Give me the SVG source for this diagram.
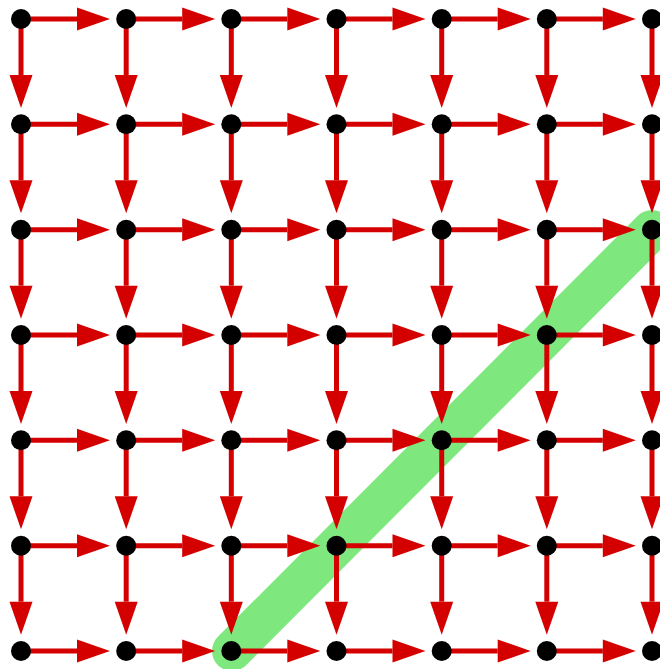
<svg xmlns="http://www.w3.org/2000/svg" width="660" height="669" viewBox="0 0 660 669">
<style>
.e{stroke:#d40000;stroke-width:5;fill:none;marker-end:url(#ah)}
.n{fill:#000}
.hl{stroke:#7ee87e;stroke-width:40;stroke-linecap:round;fill:none}
</style>
<defs>
<marker id="ah" markerUnits="userSpaceOnUse" markerWidth="34" markerHeight="24" refX="0" refY="11.5" orient="auto" overflow="visible">
<path d="M0,0 L33,11.5 L0,23 Z" fill="#d40000"/>
</marker>
</defs>
<rect width="660" height="669" fill="#fff"/>
<g id="highlight"><line class="hl" x1="232" y1="651" x2="652" y2="230"/></g>
<g id="connectors">
<line class="e" x1="21" y1="19" x2="77" y2="19"/><line class="e" x1="126.2" y1="19" x2="182.2" y2="19"/><line class="e" x1="231.3" y1="19" x2="287.3" y2="19"/><line class="e" x1="336.5" y1="19" x2="392.5" y2="19"/><line class="e" x1="441.7" y1="19" x2="497.7" y2="19"/><line class="e" x1="546.8" y1="19" x2="602.8" y2="19"/>
<line class="e" x1="21" y1="124.3" x2="77" y2="124.3"/><line class="e" x1="126.2" y1="124.3" x2="182.2" y2="124.3"/><line class="e" x1="231.3" y1="124.3" x2="287.3" y2="124.3"/><line class="e" x1="336.5" y1="124.3" x2="392.5" y2="124.3"/><line class="e" x1="441.7" y1="124.3" x2="497.7" y2="124.3"/><line class="e" x1="546.8" y1="124.3" x2="602.8" y2="124.3"/>
<line class="e" x1="21" y1="229.7" x2="77" y2="229.7"/><line class="e" x1="126.2" y1="229.7" x2="182.2" y2="229.7"/><line class="e" x1="231.3" y1="229.7" x2="287.3" y2="229.7"/><line class="e" x1="336.5" y1="229.7" x2="392.5" y2="229.7"/><line class="e" x1="441.7" y1="229.7" x2="497.7" y2="229.7"/><line class="e" x1="546.8" y1="229.7" x2="602.8" y2="229.7"/>
<line class="e" x1="21" y1="335" x2="77" y2="335"/><line class="e" x1="126.2" y1="335" x2="182.2" y2="335"/><line class="e" x1="231.3" y1="335" x2="287.3" y2="335"/><line class="e" x1="336.5" y1="335" x2="392.5" y2="335"/><line class="e" x1="441.7" y1="335" x2="497.7" y2="335"/><line class="e" x1="546.8" y1="335" x2="602.8" y2="335"/>
<line class="e" x1="21" y1="440.3" x2="77" y2="440.3"/><line class="e" x1="126.2" y1="440.3" x2="182.2" y2="440.3"/><line class="e" x1="231.3" y1="440.3" x2="287.3" y2="440.3"/><line class="e" x1="336.5" y1="440.3" x2="392.5" y2="440.3"/><line class="e" x1="441.7" y1="440.3" x2="497.7" y2="440.3"/><line class="e" x1="546.8" y1="440.3" x2="602.8" y2="440.3"/>
<line class="e" x1="21" y1="545.7" x2="77" y2="545.7"/><line class="e" x1="126.2" y1="545.7" x2="182.2" y2="545.7"/><line class="e" x1="231.3" y1="545.7" x2="287.3" y2="545.7"/><line class="e" x1="336.5" y1="545.7" x2="392.5" y2="545.7"/><line class="e" x1="441.7" y1="545.7" x2="497.7" y2="545.7"/><line class="e" x1="546.8" y1="545.7" x2="602.8" y2="545.7"/>
<line class="e" x1="21" y1="651" x2="77" y2="651"/><line class="e" x1="126.2" y1="651" x2="182.2" y2="651"/><line class="e" x1="231.3" y1="651" x2="287.3" y2="651"/><line class="e" x1="336.5" y1="651" x2="392.5" y2="651"/><line class="e" x1="441.7" y1="651" x2="497.7" y2="651"/><line class="e" x1="546.8" y1="651" x2="602.8" y2="651"/>
<line class="e" x1="21" y1="19" x2="21" y2="75"/><line class="e" x1="21" y1="124.3" x2="21" y2="180.3"/><line class="e" x1="21" y1="229.7" x2="21" y2="285.7"/><line class="e" x1="21" y1="335" x2="21" y2="391"/><line class="e" x1="21" y1="440.3" x2="21" y2="496.3"/><line class="e" x1="21" y1="545.7" x2="21" y2="601.7"/>
<line class="e" x1="126.2" y1="19" x2="126.2" y2="75"/><line class="e" x1="126.2" y1="124.3" x2="126.2" y2="180.3"/><line class="e" x1="126.2" y1="229.7" x2="126.2" y2="285.7"/><line class="e" x1="126.2" y1="335" x2="126.2" y2="391"/><line class="e" x1="126.2" y1="440.3" x2="126.2" y2="496.3"/><line class="e" x1="126.2" y1="545.7" x2="126.2" y2="601.7"/>
<line class="e" x1="231.3" y1="19" x2="231.3" y2="75"/><line class="e" x1="231.3" y1="124.3" x2="231.3" y2="180.3"/><line class="e" x1="231.3" y1="229.7" x2="231.3" y2="285.7"/><line class="e" x1="231.3" y1="335" x2="231.3" y2="391"/><line class="e" x1="231.3" y1="440.3" x2="231.3" y2="496.3"/><line class="e" x1="231.3" y1="545.7" x2="231.3" y2="601.7"/>
<line class="e" x1="336.5" y1="19" x2="336.5" y2="75"/><line class="e" x1="336.5" y1="124.3" x2="336.5" y2="180.3"/><line class="e" x1="336.5" y1="229.7" x2="336.5" y2="285.7"/><line class="e" x1="336.5" y1="335" x2="336.5" y2="391"/><line class="e" x1="336.5" y1="440.3" x2="336.5" y2="496.3"/><line class="e" x1="336.5" y1="545.7" x2="336.5" y2="601.7"/>
<line class="e" x1="441.7" y1="19" x2="441.7" y2="75"/><line class="e" x1="441.7" y1="124.3" x2="441.7" y2="180.3"/><line class="e" x1="441.7" y1="229.7" x2="441.7" y2="285.7"/><line class="e" x1="441.7" y1="335" x2="441.7" y2="391"/><line class="e" x1="441.7" y1="440.3" x2="441.7" y2="496.3"/><line class="e" x1="441.7" y1="545.7" x2="441.7" y2="601.7"/>
<line class="e" x1="546.8" y1="19" x2="546.8" y2="75"/><line class="e" x1="546.8" y1="124.3" x2="546.8" y2="180.3"/><line class="e" x1="546.8" y1="229.7" x2="546.8" y2="285.7"/><line class="e" x1="546.8" y1="335" x2="546.8" y2="391"/><line class="e" x1="546.8" y1="440.3" x2="546.8" y2="496.3"/><line class="e" x1="546.8" y1="545.7" x2="546.8" y2="601.7"/>
<line class="e" x1="652" y1="19" x2="652" y2="75"/><line class="e" x1="652" y1="124.3" x2="652" y2="180.3"/><line class="e" x1="652" y1="229.7" x2="652" y2="285.7"/><line class="e" x1="652" y1="335" x2="652" y2="391"/><line class="e" x1="652" y1="440.3" x2="652" y2="496.3"/><line class="e" x1="652" y1="545.7" x2="652" y2="601.7"/>
</g>
<g id="n-0-0"><circle class="n" cx="21" cy="19" r="10"/></g><g id="n-0-1"><circle class="n" cx="126.2" cy="19" r="10"/></g><g id="n-0-2"><circle class="n" cx="231.3" cy="19" r="10"/></g><g id="n-0-3"><circle class="n" cx="336.5" cy="19" r="10"/></g><g id="n-0-4"><circle class="n" cx="441.7" cy="19" r="10"/></g><g id="n-0-5"><circle class="n" cx="546.8" cy="19" r="10"/></g><g id="n-0-6"><circle class="n" cx="652" cy="19" r="10"/></g>
<g id="n-1-0"><circle class="n" cx="21" cy="124.3" r="10"/></g><g id="n-1-1"><circle class="n" cx="126.2" cy="124.3" r="10"/></g><g id="n-1-2"><circle class="n" cx="231.3" cy="124.3" r="10"/></g><g id="n-1-3"><circle class="n" cx="336.5" cy="124.3" r="10"/></g><g id="n-1-4"><circle class="n" cx="441.7" cy="124.3" r="10"/></g><g id="n-1-5"><circle class="n" cx="546.8" cy="124.3" r="10"/></g><g id="n-1-6"><circle class="n" cx="652" cy="124.3" r="10"/></g>
<g id="n-2-0"><circle class="n" cx="21" cy="229.7" r="10"/></g><g id="n-2-1"><circle class="n" cx="126.2" cy="229.7" r="10"/></g><g id="n-2-2"><circle class="n" cx="231.3" cy="229.7" r="10"/></g><g id="n-2-3"><circle class="n" cx="336.5" cy="229.7" r="10"/></g><g id="n-2-4"><circle class="n" cx="441.7" cy="229.7" r="10"/></g><g id="n-2-5"><circle class="n" cx="546.8" cy="229.7" r="10"/></g><g id="n-2-6"><circle class="n" cx="652" cy="229.7" r="10"/></g>
<g id="n-3-0"><circle class="n" cx="21" cy="335" r="10"/></g><g id="n-3-1"><circle class="n" cx="126.2" cy="335" r="10"/></g><g id="n-3-2"><circle class="n" cx="231.3" cy="335" r="10"/></g><g id="n-3-3"><circle class="n" cx="336.5" cy="335" r="10"/></g><g id="n-3-4"><circle class="n" cx="441.7" cy="335" r="10"/></g><g id="n-3-5"><circle class="n" cx="546.8" cy="335" r="10"/></g><g id="n-3-6"><circle class="n" cx="652" cy="335" r="10"/></g>
<g id="n-4-0"><circle class="n" cx="21" cy="440.3" r="10"/></g><g id="n-4-1"><circle class="n" cx="126.2" cy="440.3" r="10"/></g><g id="n-4-2"><circle class="n" cx="231.3" cy="440.3" r="10"/></g><g id="n-4-3"><circle class="n" cx="336.5" cy="440.3" r="10"/></g><g id="n-4-4"><circle class="n" cx="441.7" cy="440.3" r="10"/></g><g id="n-4-5"><circle class="n" cx="546.8" cy="440.3" r="10"/></g><g id="n-4-6"><circle class="n" cx="652" cy="440.3" r="10"/></g>
<g id="n-5-0"><circle class="n" cx="21" cy="545.7" r="10"/></g><g id="n-5-1"><circle class="n" cx="126.2" cy="545.7" r="10"/></g><g id="n-5-2"><circle class="n" cx="231.3" cy="545.7" r="10"/></g><g id="n-5-3"><circle class="n" cx="336.5" cy="545.7" r="10"/></g><g id="n-5-4"><circle class="n" cx="441.7" cy="545.7" r="10"/></g><g id="n-5-5"><circle class="n" cx="546.8" cy="545.7" r="10"/></g><g id="n-5-6"><circle class="n" cx="652" cy="545.7" r="10"/></g>
<g id="n-6-0"><circle class="n" cx="21" cy="651" r="10"/></g><g id="n-6-1"><circle class="n" cx="126.2" cy="651" r="10"/></g><g id="n-6-2"><circle class="n" cx="231.3" cy="651" r="10"/></g><g id="n-6-3"><circle class="n" cx="336.5" cy="651" r="10"/></g><g id="n-6-4"><circle class="n" cx="441.7" cy="651" r="10"/></g><g id="n-6-5"><circle class="n" cx="546.8" cy="651" r="10"/></g><g id="n-6-6"><circle class="n" cx="652" cy="651" r="10"/></g>
</svg>
